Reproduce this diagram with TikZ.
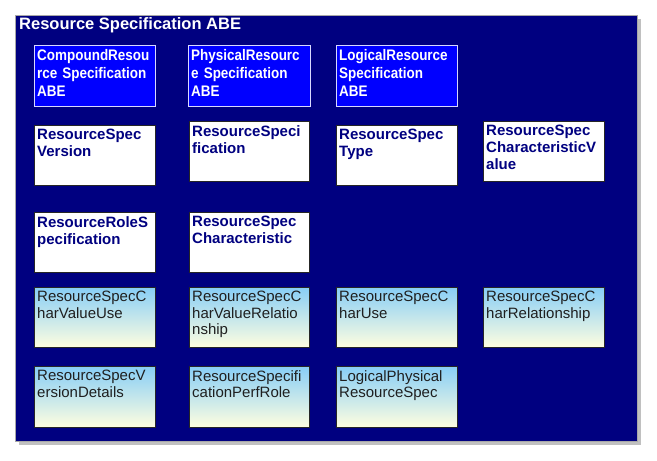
\documentclass[tikz,border=0pt]{standalone}
\usepackage{fontspec}
\setmainfont{Liberation Sans}
\newfontfamily\narrowfont[FakeStretch=0.88]{Liberation Sans}
\definecolor{navybg}{HTML}{000080}
\definecolor{abeblue}{HTML}{0000FF}
\definecolor{shadowgray}{HTML}{C0C0C0}
\definecolor{framegray}{HTML}{A8A8A8}
\definecolor{gradtop}{HTML}{88CEF6}
\definecolor{gradmid}{HTML}{D6ECE6}
\definecolor{gradbot}{HTML}{FFFEE0}
\tikzset{
  boxbase/.style={rectangle, anchor=north west, inner sep=0pt, line width=0.8pt},
  abebox/.style={boxbase, fill=abeblue, draw=white!85!abeblue},
  whitebox/.style={boxbase, fill=white, draw=black!85},
  gradbox/.style={boxbase, top color=gradtop, middle color=gradmid, bottom color=gradbot, draw=black!85},
  abetext/.style={anchor=north west, inner sep=0pt, text width=118pt, align=left, text=white, font=\narrowfont\bfseries\fontsize{15.3}{18}\selectfont},
  whitetext/.style={anchor=north west, inner sep=0pt, text width=122pt, align=left, text=navybg, font=\bfseries\fontsize{15}{17}\selectfont},
  gradtext/.style={anchor=north west, inner sep=0pt, text width=122pt, align=left, text=black!88, font=\fontsize{15}{16.5}\selectfont},
}
\newcommand{\ebox}[8]{%
  \node[#6, minimum width=#4pt, minimum height=#5pt] (#1) at (#2,#3) {};
  \node[#7] (#1t) at ([xshift=3pt,yshift=-4pt]#1.north west) {#8};
}
\begin{document}
\begin{tikzpicture}[x=1pt,y=-1pt]
\useasboundingbox (0,0) rectangle (657,461);
\fill[white] (0,0) rectangle (657,461);
\fill[shadowgray] (19,19) rectangle (641,445);
\draw[fill=navybg, draw=framegray, line width=0.8pt] (15,15) rectangle (637,441);
\node[anchor=north west, inner sep=0pt, text=white, font=\bfseries\fontsize{16.5}{19}\selectfont] (title) at (19,17) {Resource Specification ABE};
% row 1
\ebox{cmp}{34}{45}{121}{61}{abebox}{abetext}{CompoundResou\\rce Specification\\ABE}
\ebox{phy}{188}{45}{122}{61}{abebox}{abetext}{PhysicalResourc\\e Specification\\ABE}
\ebox{log}{336}{45}{121}{61}{abebox}{abetext}{LogicalResource\\Specification\\ABE}
% row 2
\ebox{ver}{34}{125}{121}{60}{whitebox}{whitetext}{ResourceSpec\\Version}
\ebox{spc}{189}{121}{120}{60}{whitebox}{whitetext}{ResourceSpeci\\fication}
\ebox{typ}{336}{125}{121}{60}{whitebox}{whitetext}{ResourceSpec\\Type}
\ebox{chv}{483}{121}{121}{60}{whitebox}{whitetext}{ResourceSpec\\CharacteristicV\\alue}
% row 3
\ebox{rol}{34}{212}{121}{60}{whitebox}{whitetext}{ResourceRoleS\\pecification}
\ebox{chr}{189}{212}{120}{60}{whitebox}{whitetext}{ResourceSpec\\Characteristic}
% row 4
\ebox{cvu}{34}{287}{121}{60}{gradbox}{gradtext}{ResourceSpecC\\harValueUse}
\ebox{cvr}{189}{287}{120}{60}{gradbox}{gradtext}{ResourceSpecC\\harValueRelatio\\nship}
\ebox{cu}{336}{287}{121}{60}{gradbox}{gradtext}{ResourceSpecC\\harUse}
\ebox{cr}{483}{287}{121}{60}{gradbox}{gradtext}{ResourceSpecC\\harRelationship}
% row 5
\ebox{vd}{34}{366}{121}{61}{gradbox}{gradtext}{ResourceSpecV\\ersionDetails}
\ebox{pr}{189}{366}{120}{61}{gradbox}{gradtext}{ResourceSpecifi\\cationPerfRole}
\ebox{lp}{336}{366}{121}{61}{gradbox}{gradtext}{LogicalPhysical\\ResourceSpec}
\end{tikzpicture}
\end{document}
